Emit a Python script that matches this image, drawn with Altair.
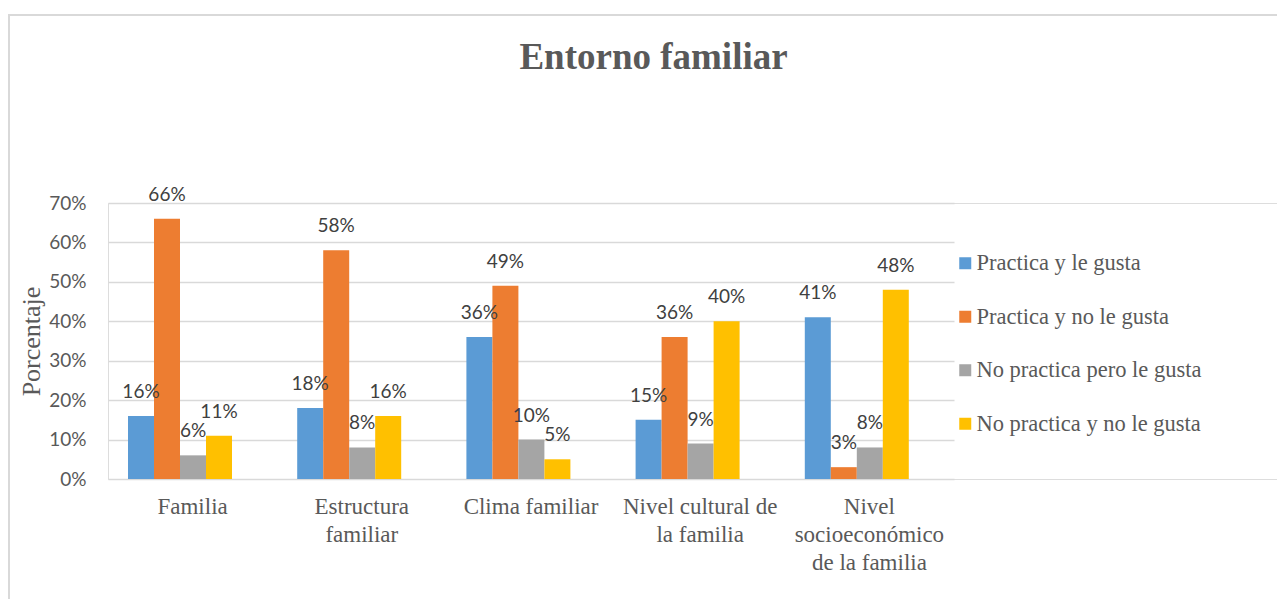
import altair as alt
import pandas as pd

categories = ["Familia", "Estructura familiar", "Clima familiar",
              "Nivel cultural de la familia", "Nivel socioeconómico de la familia"]
category_lines = [["Familia"], ["Estructura", "familiar"], ["Clima familiar"],
                  ["Nivel cultural de", "la familia"], ["Nivel", "socioeconómico", "de la familia"]]
series = ["Practica y le gusta", "Practica y no le gusta",
          "No practica pero le gusta", "No practica y no le gusta"]
colors = ["#5B9BD5", "#ED7D31", "#A5A5A5", "#FFC000"]

practica_le_gusta = [0.16, 0.18, 0.36, 0.15, 0.41]
practica_no_le_gusta = [0.66, 0.58, 0.49, 0.36, 0.03]
no_practica_le_gusta = [0.06, 0.08, 0.10, 0.09, 0.08]
no_practica_no_le_gusta = [0.11, 0.16, 0.05, 0.40, 0.48]

values = [practica_le_gusta, practica_no_le_gusta, no_practica_le_gusta, no_practica_no_le_gusta]
rows = []
for s, vals in zip(series, values):
    for c, v in zip(categories, vals):
        rows.append({"Categoria": c, "Serie": s, "Valor": v})
df = pd.DataFrame(rows)

label_expr = " : ".join(
    [f"datum.label == '{c}' ? {lines!r}" for c, lines in zip(categories, category_lines)]
) + " : datum.label"

W, H = 1169, 276
SERIF = "Liberation Serif"
SANS = "Lato"
GRAY = "#595959"

x_enc = alt.X("Categoria:N", sort=categories, title=None,
              scale=alt.Scale(domain=categories, range=[0, 846], paddingInner=0, paddingOuter=0),
              axis=alt.Axis(labelExpr=label_expr, labelAngle=0, labelFont=SERIF, labelFontSize=23,
                            labelColor=GRAY, labelLineHeight=28, labelPadding=16, labelBaseline="top",
                            domain=False, ticks=False, grid=False))
xo_enc = alt.XOffset("Serie:N", sort=series,
                     scale=alt.Scale(domain=series, range=[20, 124], paddingInner=0, paddingOuter=0))
y_enc = alt.Y("Valor:Q", title="Porcentaje",
              scale=alt.Scale(domain=[0, 0.7], nice=False),
              axis=alt.Axis(format=".0%", values=[0, 0.1, 0.2, 0.3, 0.4, 0.5, 0.6, 0.7],
                            labelFont=SANS, labelFontSize=19, labelColor=GRAY, labelPadding=22,
                            titleFont=SERIF, titleFontSize=26, titleColor=GRAY, titleFontWeight="normal",
                            titlePadding=4, domain=False, ticks=False,
                            gridColor="#D9D9D9", gridWidth=1.5))

bars = alt.Chart(df).mark_bar(size=26).encode(
    x=x_enc, xOffset=xo_enc, y=y_enc,
    color=alt.Color("Serie:N", sort=series, scale=alt.Scale(domain=series, range=colors),
                    legend=alt.Legend(title=None, orient="none", legendX=846, legendY=49,
                                      symbolType="square", symbolSize=144, symbolStrokeWidth=0,
                                      labelFont=SERIF, labelFontSize=22.5, labelColor=GRAY,
                                      labelOffset=0, rowPadding=30.5, labelLimit=400)),
)

labels = alt.Chart(df).mark_text(font=SANS, fontSize=19, color="#404040", baseline="alphabetic",
                                 dy=-18).encode(
    x=x_enc, xOffset=xo_enc, y=y_enc,
    text=alt.Text("Valor:Q", format=".0%"),
)

border_v = alt.Chart(pd.DataFrame({"a": [0]})).mark_rule(color="#D9D9D9", strokeWidth=2).encode(
    x=alt.value(-99), y=alt.value(-189), y2=alt.value(H + 140))
border_h = alt.Chart(pd.DataFrame({"a": [0]})).mark_rule(color="#D9D9D9", strokeWidth=2).encode(
    x=alt.value(-100), x2=alt.value(W + 10), y=alt.value(-188))

chart = alt.layer(border_v, border_h, bars, labels).properties(
    width=W, height=H,
    title=alt.TitleParams("Entorno familiar", font=SERIF, fontSize=37, fontWeight="bold",
                          color=GRAY, anchor="middle", offset=-64, dx=-39),
    autosize=alt.AutoSizeParams(type="none"),
    padding={"left": 100, "top": 195, "right": 0, "bottom": 120},
).configure_view(stroke=None).configure(background="white")

chart.save("out.html", embed_options={"renderer": "svg", "actions": False})
